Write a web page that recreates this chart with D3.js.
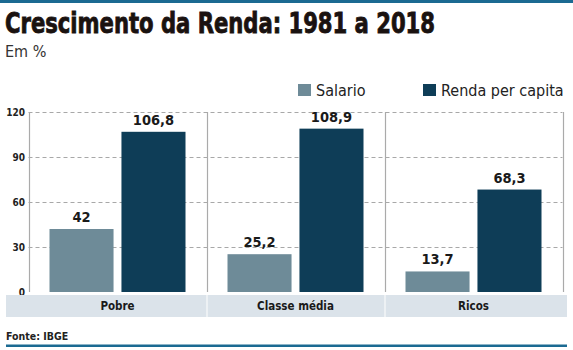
<!DOCTYPE html>
<html>
<head>
<meta charset="utf-8">
<script src="https://cdn.jsdelivr.net/npm/d3@7"></script>
<style>
  body { margin: 0; background: #fff; }
  svg { display: block; }
</style>
</head>
<body>
<div id="chart"></div>
<script>
const categories = ["Pobre", "Classe média", "Ricos"];
const seriesNames = ["Salario", "Renda per capita"];
const salario = [42, 25.2, 13.7];
const rendaPerCapita = [106.8, 108.9, 68.3];
const yTicks = [0, 30, 60, 90, 120];

const W = 573, H = 350;
const colors = { "Salario": "#6e8b98", "Renda per capita": "#0e3d57" };
const condensed = "'DejaVu Sans Condensed', 'Liberation Sans Narrow', sans-serif";

const svg = d3.select("#chart").append("svg")
    .attr("width", W)
    .attr("height", H);

// top and bottom rules
svg.append("rect").attr("x", 0).attr("y", 0).attr("width", W).attr("height", 3).attr("fill", "#1b6a92");
svg.append("rect").attr("x", 6).attr("y", 344.5).attr("width", 561).attr("height", 2.5).attr("fill", "#1b6a92");

svg.append("text")
    .attr("x", 5).attr("y", 33)
    .attr("textLength", 430).attr("lengthAdjust", "spacingAndGlyphs")
    .style("font-family", condensed)
    .style("font-weight", 700)
    .style("font-size", "28px")
    .style("fill", "#1a1210")
    .style("stroke", "#1a1210")
    .style("stroke-width", 0.8)
    .text("Crescimento da Renda: 1981 a 2018");

svg.append("text")
    .attr("x", 5).attr("y", 57)
    .style("font-family", "'Liberation Sans Narrow', 'DejaVu Sans Condensed', sans-serif")
    .style("font-size", "16px")
    .style("fill", "#333")
    .text("Em %");

const plot = { left: 28.5, right: 562.5, top: 112, bottom: 292 };

const x0 = d3.scaleBand()
    .domain(categories)
    .range([plot.left, plot.right])
    .padding(0);

const x1 = d3.scaleBand()
    .domain(seriesNames)
    .range([21, x0.bandwidth() - 21])
    .paddingInner(0.11)
    .paddingOuter(0);

const y = d3.scaleLinear()
    .domain([0, 120])
    .range([plot.bottom, plot.top]);

// dashed gridlines
svg.append("g")
    .selectAll("line")
    .data(yTicks.filter(d => d > 0))
    .enter().append("line")
        .attr("x1", plot.left).attr("x2", plot.right)
        .attr("y1", d => Math.round(y(d)) + 0.5)
        .attr("y2", d => Math.round(y(d)) + 0.5)
        .attr("stroke", "#a8a8a8")
        .attr("stroke-width", 1)
        .attr("stroke-dasharray", "4,3");

// left axis, dividers, right border
const vlines = [plot.left].concat(categories.slice(1).map(c => x0(c))).concat([plot.right]);
svg.append("g")
    .selectAll("line")
    .data(vlines)
    .enter().append("line")
        .attr("x1", d => Math.round(d) + 0.5).attr("x2", d => Math.round(d) + 0.5)
        .attr("y1", plot.top).attr("y2", plot.bottom)
        .attr("stroke", "#aaaaaa")
        .attr("stroke-width", 1.2);

// y tick labels
svg.append("g")
    .selectAll("text")
    .data(yTicks)
    .enter().append("text")
        .attr("x", 25)
        .attr("y", d => y(d) + 3.5)
        .attr("text-anchor", "end")
        .style("font-family", condensed)
        .style("font-weight", 700)
        .style("font-size", "10px")
        .style("fill", "#222")
        .text(d => d);

const rows = categories.map((c, i) => ({
    cat: c,
    values: [
        { key: "Salario", value: salario[i] },
        { key: "Renda per capita", value: rendaPerCapita[i] }
    ]
}));

const groups = svg.append("g")
    .selectAll("g")
    .data(rows)
    .enter().append("g")
        .attr("transform", d => `translate(${x0(d.cat)},0)`);

groups.selectAll("rect")
    .data(d => d.values)
    .enter().append("rect")
        .attr("x", d => x1(d.key))
        .attr("width", x1.bandwidth())
        .attr("y", d => y(d.value))
        .attr("height", d => y(0) - y(d.value))
        .attr("fill", d => colors[d.key]);

groups.selectAll("text")
    .data(d => d.values)
    .enter().append("text")
        .attr("x", d => x1(d.key) + x1.bandwidth() / 2)
        .attr("y", d => y(d.value) - 7)
        .attr("text-anchor", "middle")
        .style("font-family", condensed)
        .style("font-weight", 700)
        .style("font-size", "14.5px")
        .style("fill", "#1a1a1a")
        .text(d => String(d.value).replace(".", ","));

// category label strip
const strip = svg.append("g");
strip.selectAll("rect")
    .data(categories)
    .enter().append("rect")
        .attr("x", (d, i) => i === 0 ? 6 : x0(d) + 1)
        .attr("width", (d, i) => {
            const start = i === 0 ? 6 : x0(d) + 1;
            const end = i === categories.length - 1 ? 567 : x0(d) + x0.bandwidth();
            return end - start;
        })
        .attr("y", 295)
        .attr("height", 22)
        .attr("fill", "#dbe3ea");

strip.selectAll("text")
    .data(categories)
    .enter().append("text")
        .attr("x", d => x0(d) + x0.bandwidth() / 2)
        .attr("y", 310)
        .attr("text-anchor", "middle")
        .style("font-family", condensed)
        .style("font-weight", 700)
        .style("font-size", "11.5px")
        .style("fill", "#1a1a1a")
        .text(d => d);

// legend
const legendX = [298, 423];
const legend = svg.append("g")
    .selectAll("g")
    .data(seriesNames)
    .enter().append("g")
        .attr("transform", (d, i) => `translate(${legendX[i]},84)`);

legend.append("rect")
    .attr("width", 13).attr("height", 12)
    .attr("fill", d => colors[d]);

legend.append("text")
    .attr("x", 18).attr("y", 12)
    .style("font-family", "'Liberation Sans Narrow', 'DejaVu Sans Condensed', sans-serif")
    .style("font-size", "16px")
    .style("fill", "#222")
    .text(d => d);

svg.append("text")
    .attr("x", 6).attr("y", 340)
    .style("font-family", condensed)
    .style("font-weight", 600)
    .style("font-size", "10.5px")
    .style("fill", "#222")
    .text("Fonte: IBGE");
</script>
</body>
</html>
